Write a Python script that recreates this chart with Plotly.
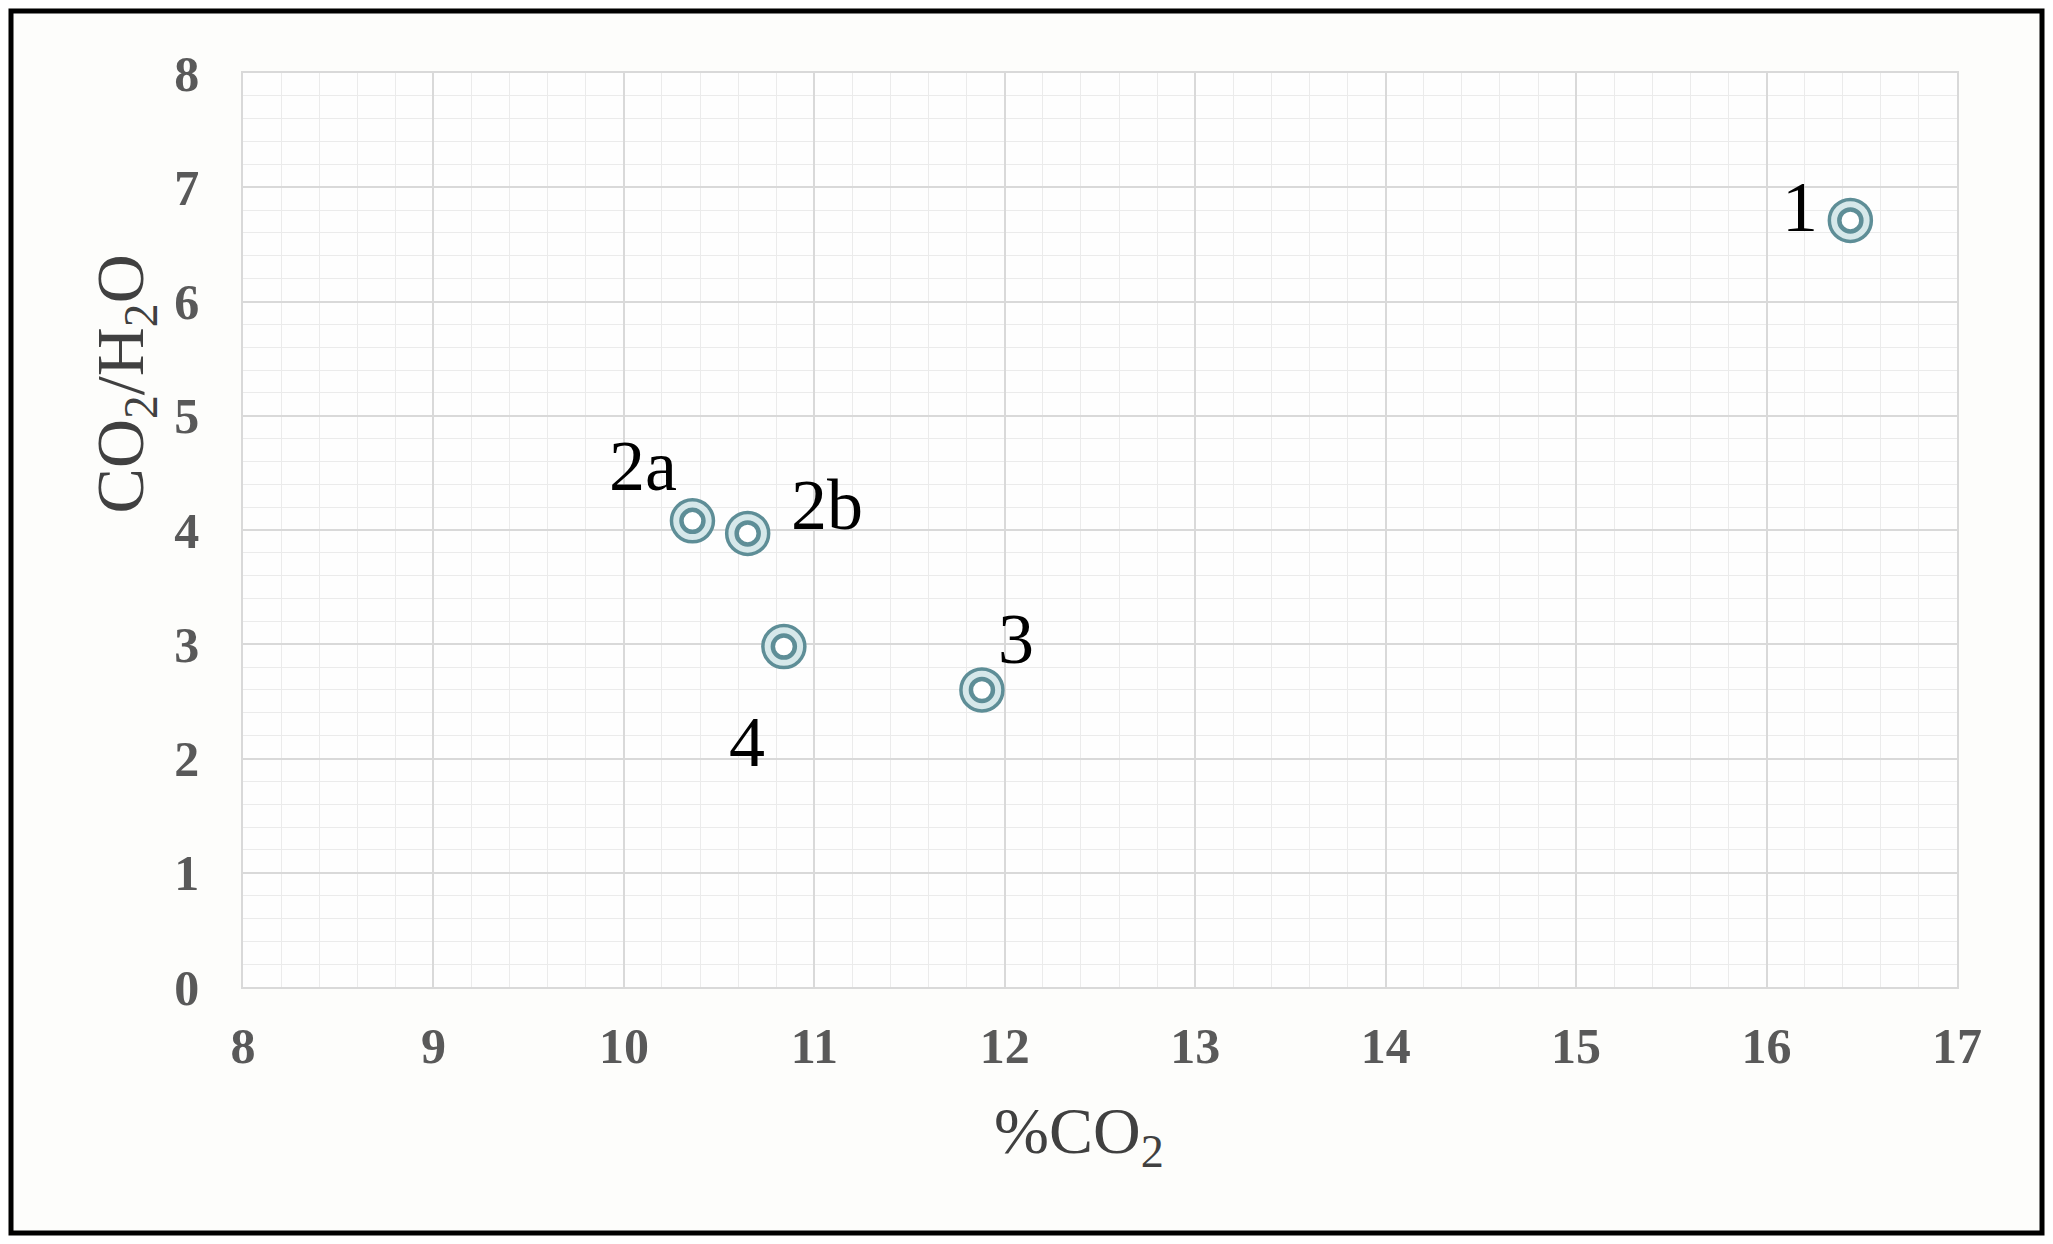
"""
CO2/H2O ratio against %CO2 — scatter with labelled samples.
"""

import plotly.graph_objects as go

# ── Données ───────────────────────────────────────────────────────────────────
labels = ["1", "2a", "2b", "3", "4"]
pct_co2 = [16.44, 10.36, 10.65, 11.88, 10.84]
ratio_co2_h2o = [6.71, 4.08, 3.97, 2.60, 2.98]

# label offsets (pixels) relative to their point
label_dx = [-50, -49, 79, 34, -37]
label_dy = [13, 55, 28, 51, -95]

x_ticks = list(range(8, 18))
y_ticks = list(range(0, 9))

# ── Style ─────────────────────────────────────────────────────────────────────
SERIF = "Liberation Serif, Times New Roman, serif"
RING = "#5e8e97"
W, H = 2037, 1228
ML, MR, MT, MB = 235, 88, 65, 249
PW, PH = W - ML - MR, H - MT - MB

fig = go.Figure()

fig.add_trace(go.Scatter(
    x=pct_co2, y=ratio_co2_h2o, mode="markers",
    marker=dict(size=42, color="#d6e8ea", line=dict(color=RING, width=3.5)),
    hoverinfo="skip", showlegend=False,
))
fig.add_trace(go.Scatter(
    x=pct_co2, y=ratio_co2_h2o, mode="markers",
    marker=dict(size=22, color="white", line=dict(color=RING, width=4.5)),
    text=labels,
    hovertemplate="%{text}: %{x}, %{y}<extra></extra>",
    showlegend=False,
))

for lab, x, y, dx, dy in zip(labels, pct_co2, ratio_co2_h2o, label_dx, label_dy):
    fig.add_annotation(
        x=x, y=y, text=lab, showarrow=False,
        xshift=dx, yshift=dy,
        font=dict(family=SERIF, size=72, color="black"),
    )

axis_common = dict(
    showgrid=True, gridcolor="#d9d9d9", gridwidth=1.5,
    showline=True, linecolor="#d9d9d9", linewidth=1.5, mirror=True,
    zeroline=False, ticks="",
    tickfont=dict(family=SERIF, size=50, color="#595959", weight="bold"),
    minor=dict(dtick=0.2, showgrid=True, gridcolor="#ebebeb", gridwidth=1),
)

fig.update_layout(
    width=W, height=H,
    paper_bgcolor="#fdfdfb",
    plot_bgcolor="#fefefe",
    margin=dict(l=ML, r=MR, t=MT, b=MB),
    xaxis=dict(range=[8, 17], tickvals=x_ticks, ticklabelstandoff=14,
               **axis_common),
    yaxis=dict(range=[0, 8], tickvals=y_ticks, ticklabelstandoff=32,
               **axis_common),
)

# titres d'axes, placés comme dans l'original
fig.add_annotation(
    xref="paper", yref="paper", x=-0.095, y=0.66,
    text="CO<sub>2</sub>/H<sub>2</sub>O", textangle=-90, showarrow=False,
    font=dict(family=SERIF, size=68, color="#404040"),
)
fig.add_annotation(
    xref="paper", yref="paper", x=0.488, y=-148 / PH, yanchor="middle",
    text="%CO<sub>2</sub>", showarrow=False,
    font=dict(family=SERIF, size=66, color="#404040"),
)

# cadre noir autour de la figure
fig.add_shape(
    type="rect", xref="paper", yref="paper",
    x0=-(ML - 3) / PW, x1=1 + (MR - 3) / PW,
    y0=-(MB - 3) / PH, y1=1 + (MT - 3) / PH,
    line=dict(color="black", width=5),
)

fig.write_html("out.html")
